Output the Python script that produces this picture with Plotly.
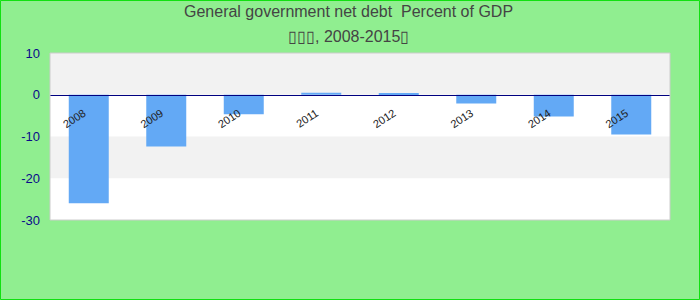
import plotly.graph_objects as go

years = ["2008", "2009", "2010", "2011", "2012", "2013", "2014", "2015"]
net_debt = [-26.0, -12.4, -4.7, 0.5, 0.3, -2.1, -5.2, -9.5]
y_tick_vals = [-30, -20, -10, 0, 10]
y_tick_labels = ["-30", "-20", "-10", "0", "10"]
title_line1 = "General government net debt  Percent of GDP"
title_line2 = "\u25af\u25af\u25af, 2008-2015\u25af"

W, H = 700, 300
L, R, T, B = 50, 30, 53, 80
pw, ph = W - L - R, H - T - B

fig = go.Figure()
fig.add_trace(go.Bar(x=years, y=net_debt, marker=dict(color="#63a9f5", line=dict(width=0)),
                     hoverinfo="x+y"))

shapes = []
for lo, hi, col in [(0, 10, "#f2f2f2"), (-20, -10, "#f2f2f2")]:
    shapes.append(dict(type="rect", xref="paper", yref="y", x0=0, x1=1, y0=lo, y1=hi,
                       fillcolor=col, line=dict(width=0), layer="below"))
shapes.append(dict(type="rect", xref="paper", yref="paper", x0=0, x1=1, y0=0, y1=1,
                   line=dict(color="#cccccc", width=1), layer="above"))

def px_x(p):
    return (p - L) / pw
def px_y(p):
    return (H - B - p) / ph

shapes.append(dict(type="rect", xref="paper", yref="paper",
                   x0=px_x(0.5), x1=px_x(699.5), y0=px_y(299.5), y1=px_y(0.5),
                   line=dict(color="#11e011", width=1), layer="above"))

fig.update_layout(
    width=W, height=H,
    margin=dict(l=L, r=R, t=T, b=B),
    paper_bgcolor="#90ee90",
    plot_bgcolor="#ffffff",
    showlegend=False,
    bargap=0.484,
    shapes=shapes,
    font=dict(family="Liberation Sans, Arial, sans-serif"),
    annotations=[
        dict(text=title_line1, xref="paper", yref="paper", x=px_x(348), y=px_y(12),
             xanchor="center", yanchor="middle", showarrow=False,
             font=dict(size=16, color="#444444")),
        dict(text=title_line2, xref="paper", yref="paper", x=px_x(348), y=px_y(36),
             xanchor="center", yanchor="middle", showarrow=False,
             font=dict(size=16, color="#444444")),
    ],
    xaxis=dict(
        type="category", range=[-0.5, 7.5], anchor="free", position=0.75,
        showline=True, linecolor="#000080", linewidth=1,
        showgrid=False, ticks="", tickangle=-33,
        ticklabelstandoff=7, ticklabelshift=-5,
        tickfont=dict(size=11, color="#222222"),
    ),
    yaxis=dict(
        range=[-30, 10], tickvals=y_tick_vals, ticktext=y_tick_labels,
        showgrid=False, zeroline=False, showline=False, ticks="",
        ticklabelstandoff=9,
        tickfont=dict(size=13, color="#0a0a8a"),
    ),
)

fig.write_html("out.html")
